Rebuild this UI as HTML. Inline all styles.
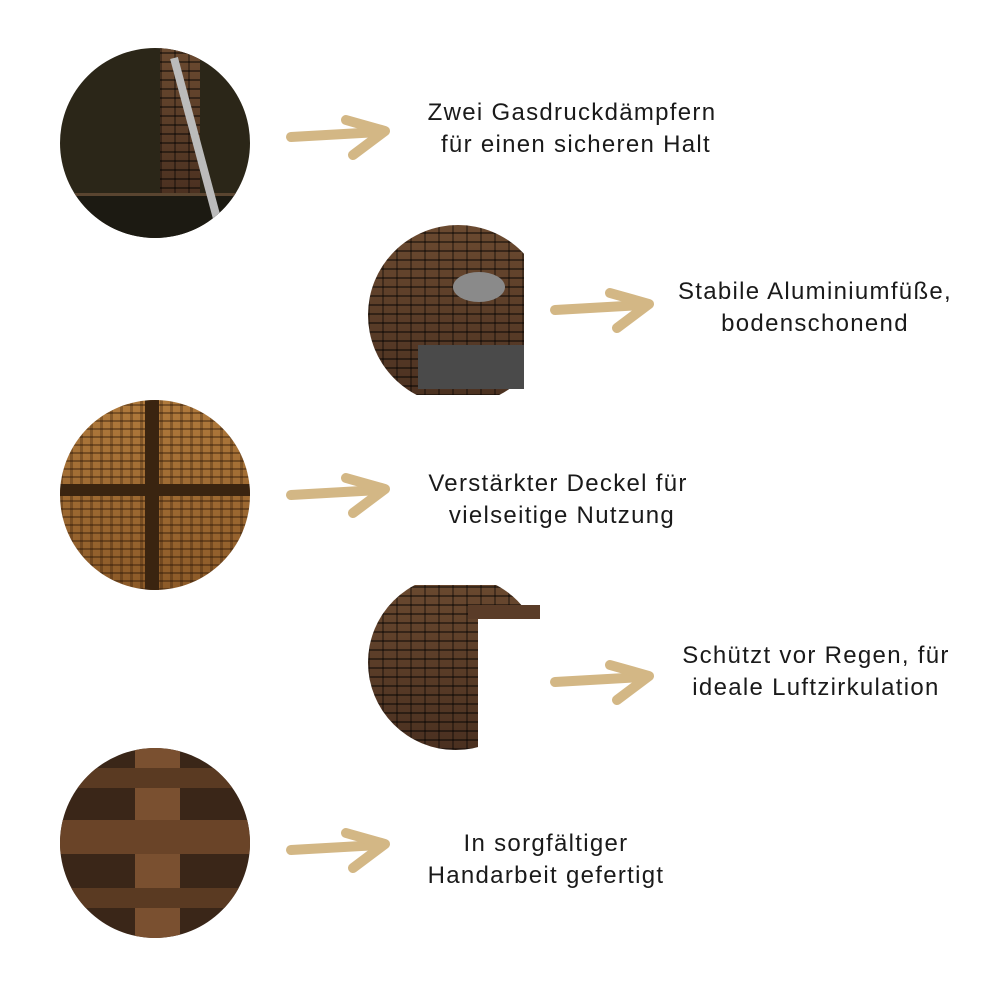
<!DOCTYPE html>
<html><head><meta charset="utf-8"><style>
html,body{margin:0;padding:0;background:#fff;}
body{width:1000px;height:1000px;position:relative;overflow:hidden;font-family:"Liberation Sans",sans-serif;}
.c{position:absolute;border-radius:50%;overflow:hidden;}
.t{position:absolute;font-size:24px;letter-spacing:1.3px;line-height:32px;color:#1a1a1a;text-align:center;white-space:nowrap;transform:translateX(-50%);}
.weave{background:
 repeating-linear-gradient(0deg,rgba(0,0,0,.45) 0 2px,transparent 2px 9px),
 repeating-linear-gradient(90deg,rgba(0,0,0,.35) 0 2px,transparent 2px 14px),
 linear-gradient(#6b4a30,#4a3020);}
.weave2{background:
 repeating-linear-gradient(0deg,rgba(40,20,5,.4) 0 2px,transparent 2px 8px),
 repeating-linear-gradient(90deg,rgba(40,20,5,.3) 0 3px,transparent 3px 10px),
 linear-gradient(#b07a3c,#8c5a28);}
</style></head><body>
<div class="c" style="left:60px;top:48px;width:190px;height:190px;background:#2b2618;">
 <div style="position:absolute;left:100px;top:0;width:40px;height:150px;" class="weave"></div>
 <div style="position:absolute;left:0;top:145px;width:190px;height:50px;background:#1c1a12;border-top:3px solid #5a4530;"></div>
 <div style="position:absolute;left:110px;top:10px;width:8px;height:170px;background:#bbb;transform:rotate(-15deg);transform-origin:top;"></div>
</div>
<div style="position:absolute;left:368px;top:225px;width:156px;height:170px;overflow:hidden;">
 <div class="c weave" style="left:0;top:0;width:180px;height:180px;"></div>
 <div style="position:absolute;left:50px;top:120px;width:110px;height:44px;background:#4a4a4a;"></div>
 <div style="position:absolute;left:85px;top:47px;width:52px;height:30px;border-radius:50%;background:#8a8a8a;"></div>
</div>
<div class="c weave2" style="left:60px;top:400px;width:190px;height:190px;">
 <div style="position:absolute;left:85px;top:0;width:14px;height:190px;background:#3a2410;"></div>
 <div style="position:absolute;left:0;top:84px;width:190px;height:12px;background:#3a2410;"></div>
</div>
<div style="position:absolute;left:368px;top:585px;width:175px;height:165px;overflow:hidden;">
 <div class="c weave" style="left:0;top:-10px;width:175px;height:175px;"></div>
 <div style="position:absolute;left:110px;top:25px;width:70px;height:150px;background:#fff;"></div>
 <div style="position:absolute;left:100px;top:20px;width:72px;height:14px;background:#5a3c28;"></div>
</div>
<div class="c" style="left:60px;top:748px;width:190px;height:190px;background:#3a2618;">
 <div style="position:absolute;left:75px;top:0;width:45px;height:190px;background:#7a5030;"></div>
 <div style="position:absolute;left:0;top:72px;width:190px;height:34px;background:#6a4428;"></div>
 <div style="position:absolute;left:0;top:20px;width:190px;height:20px;background:#5a3a22;"></div>
 <div style="position:absolute;left:0;top:140px;width:190px;height:20px;background:#5a3a22;"></div>
</div>

<svg width="1000" height="1000" style="position:absolute;left:0;top:0" viewBox="0 0 1000 1000">
 <defs><g id="ar" fill="none" stroke="#d3b785" stroke-width="10" stroke-linecap="round" stroke-linejoin="round">
  <path d="M0 20 L88 15"/><path d="M55 3 L94 14 L62 38"/></g></defs>
 <use href="#ar" x="291" y="117"/>
 <use href="#ar" x="555" y="290"/>
 <use href="#ar" x="291" y="475"/>
 <use href="#ar" x="555" y="662"/>
 <use href="#ar" x="291" y="830"/>
</svg>

<div class="t" style="left:572px;top:97px;">Zwei Gasdruckdämpfern<br>&nbsp;für einen sicheren Halt</div>
<div class="t" style="left:815px;top:276px;">Stabile Aluminiumfüße,<br>bodenschonend</div>
<div class="t" style="left:558px;top:468px;">Verstärkter Deckel für<br>&nbsp;vielseitige Nutzung</div>
<div class="t" style="left:816px;top:640px;">Schützt vor Regen, für<br>ideale Luftzirkulation</div>
<div class="t" style="left:546px;top:828px;">In sorgfältiger<br>Handarbeit gefertigt</div>
</body></html>
